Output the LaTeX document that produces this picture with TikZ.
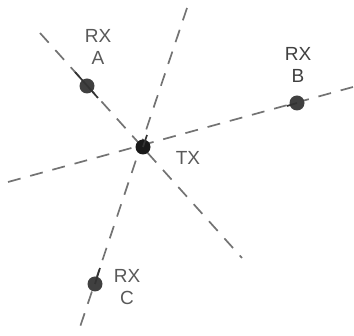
\documentclass[tikz,border=0pt]{standalone}
\usepackage{fontspec}
\setmainfont{Liberation Sans}
\begin{document}
\begin{tikzpicture}[x=1pt,y=-1pt,
    beam/.style={dash pattern=on 13pt off 10pt, black!55, line width=1.7pt},
    tick/.style={black!80, line width=1.7pt},
    station/.style={circle, fill=black!75, inner sep=0pt, minimum size=15pt},
    lbl/.style={text=black!65, align=center, font=\fontsize{19}{22}\selectfont}]
    \useasboundingbox (0,0) rectangle (354,336);

    % Ends of the three bearing lines
    \coordinate (a1) at (40,33);   \coordinate (a2) at (242,258);
    \coordinate (c1) at (187,8);   \coordinate (c2) at (79,330);
    \coordinate (b1) at (8,182);   \coordinate (b2) at (353,87);

    \draw[beam] (a1) -- (a2);
    \draw[beam] (c1) -- (c2);
    \draw[beam] (b1) -- (b2);

    % Transmitter and receivers
    \node[station, fill=black!90] (tx) at (143,147) {};
    \node[station] (rxa) at (87,86) {};
    \node[station] (rxb) at (297,103) {};
    \node[station] (rxc) at (95,284) {};

    \draw[tick] (75,72) -- (98,98);
    \draw[tick] (tx.center) -- (147,135);
    \draw[tick] (rxb.center) -- (287,106);
    \draw[tick] (rxc.center) -- (100,268);

    % Labels
    \node[lbl] (la) at (98,47) {RX\\A};
    \node[lbl, text=black!75] (lb) at (298,65) {RX\\B};
    \node[lbl] (lt) at (188,158) {TX};
    \node[lbl] (lc) at (127,287) {RX\\C};
\end{tikzpicture}
\end{document}
